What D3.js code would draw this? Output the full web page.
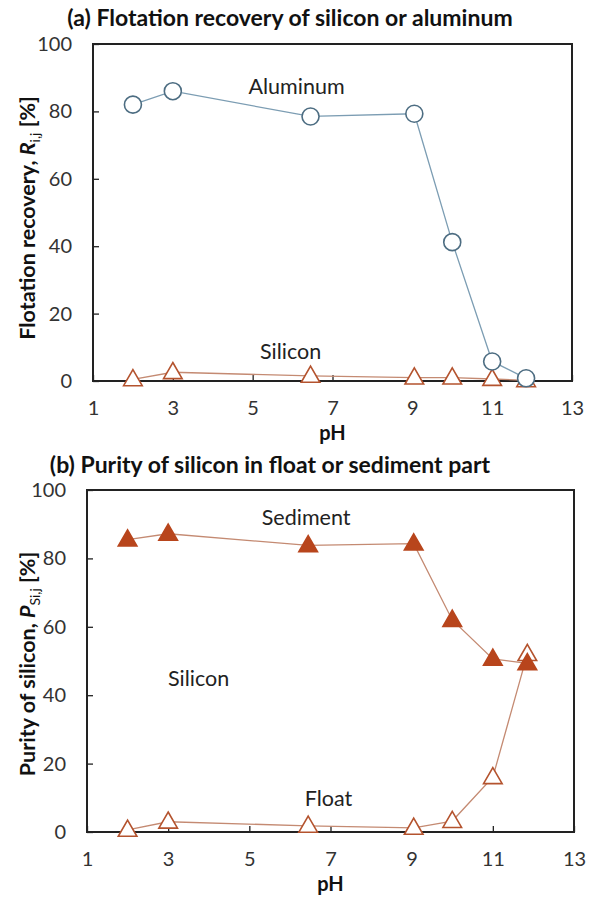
<!DOCTYPE html>
<html>
<head>
<meta charset="utf-8">
<script src="https://cdn.jsdelivr.net/npm/d3@7/dist/d3.min.js"></script>
<style>
  html, body { margin: 0; padding: 0; background: #fff; }
  svg { display: block; }
  text { font-family: Lato, "Open Sans", sans-serif; }
</style>
</head>
<body>
<svg id="chart" width="589" height="903"></svg>
<script>
// ---- data ----
const pH = [2, 3, 6.45, 9.05, 10, 11, 11.85];
const aluminumRecovery = [82, 86, 78.5, 79.3, 41.2, 5.8, 0.8];
const siliconRecovery = [0.5, 2.6, 1.5, 1.0, 1.0, 0.6, 0.2];
const sedimentPurity = [85.5, 87.2, 83.8, 84.3, 62, 50.6, 49.3];
const floatPurity = [0.6, 3.0, 1.8, 1.2, 3.2, 16, 52];
const xTicks = [1, 3, 5, 7, 9, 11, 13];
const yTicks = [0, 20, 40, 60, 80, 100];

const svg = d3.select("#chart");

const colBlue = "#4d6d82", colBlueLine = "#7c9db3";
const colOrange = "#b4532e", colOrangeLine = "#c48a72";
const colFill = "#b8451c";

const tri = d3.symbol().type(d3.symbolTriangle).size(150);

function panel(cfg) {
  const g = svg.append("g");
  const x = d3.scaleLinear().domain([1, 13]).range([cfg.left, cfg.right]);
  const y = d3.scaleLinear().domain([0, 100]).range([cfg.bottom, cfg.top]);

  // axes
  const xa = g.append("g").attr("transform", `translate(0,${cfg.bottom})`)
    .call(d3.axisBottom(x).tickValues(xTicks).tickSizeInner(-6).tickSizeOuter(0).tickPadding(20));
  const ya = g.append("g").attr("transform", `translate(${cfg.left},0)`)
    .call(d3.axisLeft(y).tickValues(yTicks).tickSizeInner(-6).tickSizeOuter(0).tickPadding(21));
  [xa, ya].forEach(a => {
    a.select(".domain").remove();
    a.selectAll("line").attr("stroke", "#222").attr("stroke-width", 1.3);
    a.selectAll("text").attr("font-size", 20).attr("fill", "#333").attr("font-family", "Lato");
  });

  // frame
  g.append("rect").attr("x", cfg.left).attr("y", cfg.top)
    .attr("width", cfg.right - cfg.left).attr("height", cfg.bottom - cfg.top)
    .attr("fill", "none").attr("stroke", "#222").attr("stroke-width", 2);

  const line = d3.line().x(d => x(d[0])).y(d => y(d[1]));

  cfg.series.forEach(s => {
    const pts = pH.map((p, i) => [p, s.values[i]]);
    g.append("path").datum(pts).attr("d", line)
      .attr("fill", "none").attr("stroke", s.lineColor).attr("stroke-width", 1.3);
    if (s.marker === "circle") {
      g.selectAll(null).data(pts).enter().append("circle")
        .attr("cx", d => x(d[0])).attr("cy", d => y(d[1])).attr("r", 8.5)
        .attr("fill", "#fff").attr("stroke", s.color).attr("stroke-width", 1.6);
    } else {
      g.selectAll(null).data(pts).enter().append("path")
        .attr("d", tri)
        .attr("transform", d => `translate(${x(d[0])},${y(d[1]) + 1})`)
        .attr("fill", s.filled ? s.color : "#fff")
        .attr("stroke", s.color).attr("stroke-width", 1.6);
    }
  });

  // annotations
  cfg.notes.forEach(n => {
    g.append("text").attr("x", x(n.px)).attr("y", y(n.v))
      .attr("text-anchor", "middle").attr("dominant-baseline", "central")
      .attr("font-size", 21.5).attr("fill", "#222").text(n.text);
  });

  // x title
  g.append("text").attr("x", x(7)).attr("y", cfg.bottom + 59)
    .attr("text-anchor", "middle").attr("font-size", 20).attr("font-weight", "bold")
    .attr("fill", "#111").text("pH");

  // title
  g.append("text").attr("x", cfg.titleX).attr("y", cfg.titleY)
    .attr("text-anchor", "middle").attr("font-size", cfg.titleSize).attr("font-weight", "bold")
    .attr("fill", "#111").text(cfg.title);

  // y title
  const cy = cfg.yTitleY;
  const yt = g.append("text")
    .attr("transform", `translate(${cfg.yTitleX},${cy}) rotate(-90)`)
    .attr("text-anchor", "middle").attr("font-size", 21.5).attr("font-weight", "bold")
    .attr("fill", "#111");
  yt.append("tspan").text(cfg.yTitle[0]);
  yt.append("tspan").attr("font-style", "italic").text(cfg.yTitle[1]);
  yt.append("tspan").attr("font-size", 14).attr("font-weight", "normal").attr("dy", 5).text(cfg.yTitle[2]);
  yt.append("tspan").attr("dy", -5).text(" [%]");
}

panel({
  left: 93, right: 572, top: 44, bottom: 381,
  title: "(a) Flotation recovery of silicon or aluminum", titleX: 290, titleY: 26, titleSize: 23,
  yTitle: ["Flotation recovery, ", "R", "i,j"], yTitleX: 35, yTitleY: 218,
  series: [
    { values: siliconRecovery, marker: "triangle", filled: false, color: colOrange, lineColor: colOrangeLine },
    { values: aluminumRecovery, marker: "circle", color: colBlue, lineColor: colBlueLine }
  ],
  notes: [
    { text: "Aluminum", px: 6.1, v: 87.5 },
    { text: "Silicon", px: 5.95, v: 8.8 }
  ]
});

panel({
  left: 87, right: 574, top: 490, bottom: 832,
  title: "(b) Purity of silicon in float or sediment part", titleX: 270, titleY: 473, titleSize: 23,
  yTitle: ["Purity of silicon, ", "P", "Si,j"], yTitleX: 35, yTitleY: 664,
  series: [
    { values: floatPurity, marker: "triangle", filled: false, color: colOrange, lineColor: colOrangeLine },
    { values: sedimentPurity, marker: "triangle", filled: true, color: colFill, lineColor: colOrangeLine }
  ],
  notes: [
    { text: "Sediment", px: 6.4, v: 92 },
    { text: "Silicon", px: 3.75, v: 45 },
    { text: "Float", px: 6.95, v: 10 }
  ]
});
</script>
</body>
</html>
